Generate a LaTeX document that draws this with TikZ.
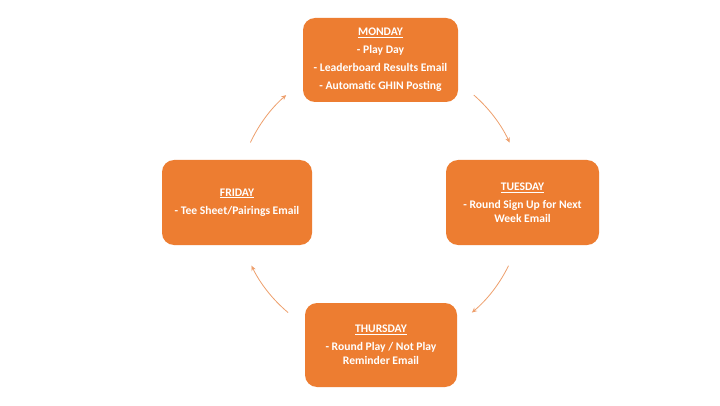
\documentclass[tikz,border=0pt]{standalone}
\usepackage{fontspec}
\setmainfont{Carlito}
\usetikzlibrary{arrows.meta,calc}
\definecolor{golforange}{HTML}{ED7D31}
\definecolor{arclight}{HTML}{EE9F6C}
\tikzset{>={Stealth[length=5pt,width=4.5pt]},every node/.style={font=\fontsize{11.6}{14}\selectfont\bfseries},
  day/.style={fill=golforange,text=white,rounded corners=12pt,align=center,inner sep=0pt},
  cycle/.style={draw=arclight,line width=.8pt,->}}
\newcommand{\dayname}[1]{\underline{#1}\\[4pt]}

\begin{document}
\begin{tikzpicture}[x=1pt,y=1pt]
\useasboundingbox[fill=white] (0,0) rectangle (720,405);
\coordinate (c) at (380,202);
\node[day,minimum width=155,minimum height=84] (mon) at (380.5,345){\dayname{MONDAY}- Play Day\\[4pt]- Leaderboard Results Email\\[4pt]- Automatic GHIN Posting};
\node[day,minimum width=153,minimum height=85] (tue) at (522.5,202.5){\dayname{TUESDAY}- Round Sign Up for Next\\Week Email};
\node[day,minimum width=152,minimum height=84] (thu) at (381,60){\dayname{THURSDAY}- Round Play / Not Play\\Reminder Email};
\node[day,minimum width=150,minimum height=85] (fri) at (237,202.5){\dayname{FRIDAY}- Tee Sheet/Pairings Email};
% arcs round the week
\draw[cycle] ($(c)+(155:143pt)$) arc[start angle=155,end angle=131,radius=143pt];
\draw[cycle] ($(c)+(49:143pt)$) arc[start angle=49,end angle=25,radius=143pt];
\draw[cycle] ($(c)+(-26:143pt)$) arc[start angle=-26,end angle=-50,radius=143pt];
\draw[cycle] ($(c)+(-130:143pt)$) arc[start angle=-130,end angle=-154,radius=143pt];
\end{tikzpicture}
\end{document}
